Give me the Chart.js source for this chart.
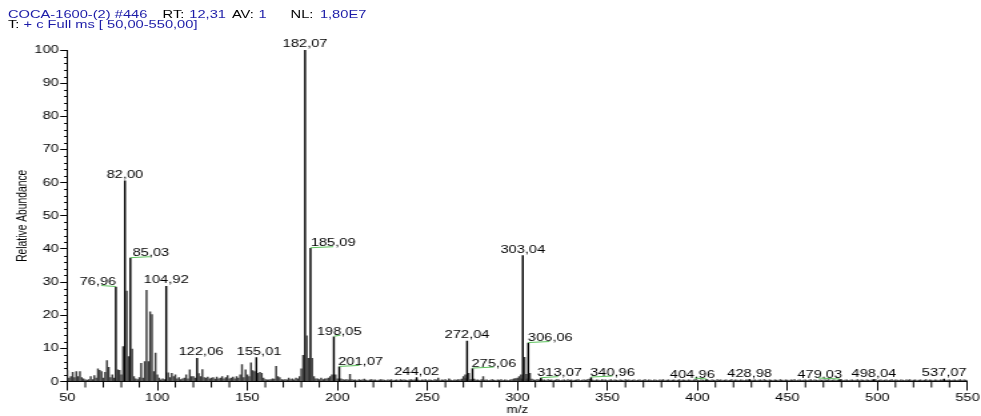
<!DOCTYPE html>
<html>
<head>
<meta charset="utf-8">
<script src="https://cdn.jsdelivr.net/npm/chart.js@4.4.1/dist/chart.umd.min.js"></script>
<style>
  html, body { margin: 0; padding: 0; background: #fff; overflow: hidden; }
  /* the original picture is stretched sideways, so the whole drawing is too */
  #wrap { position: absolute; left: 0; top: 0; width: 736px; height: 416px;
          transform: scaleX(1.3329); transform-origin: 0 0; }
  #chart { position: absolute; left: 0; top: 0; }
  .hd { position: absolute; font: 11px Arial, "Liberation Sans", sans-serif;
        line-height: 11px; white-space: pre; color: #000; }
  .b { color: #1c1ca8; }
</style>
</head>
<body>
<div id="wrap">
  <canvas id="chart" width="736" height="416"></canvas>
  <div class="hd b" style="left:6px;top:9px">COCA-1600-(2) #446</div>
  <div class="hd" style="left:122px;top:9px">RT:</div>
  <div class="hd b" style="left:142px;top:9px">12,31</div>
  <div class="hd" style="left:174px;top:9px">AV:</div>
  <div class="hd b" style="left:194px;top:9px">1</div>
  <div class="hd" style="left:218px;top:9px">NL:</div>
  <div class="hd b" style="left:240px;top:9px">1,80E7</div>
  <div class="hd" style="left:6px;top:19px">T: <span class="b">+ c Full ms [ 50,00-550,00]</span></div>
</div>
<script>
// m/z 50 - 207, one bar per unit (labelled peaks keep their exact mass)
const mzLow = [
  50, 51, 52, 53, 54, 55, 56, 57, 58, 59,
  60, 61, 62, 63, 64, 65, 66, 67, 68, 69,
  70, 71, 72, 73, 74, 75, 76, 76.96, 78, 79,
  80, 81, 82.00, 83, 84, 85.03, 86, 87, 88, 89,
  90, 91, 92, 93, 94, 95, 96, 97, 98, 99,
  100, 101, 102, 103, 104, 104.92, 106, 107, 108, 109,
  110, 111, 112, 113, 114, 115, 116, 117, 118, 119,
  120, 121, 122.06, 123, 124, 125, 126, 127, 128, 129,
  130, 131, 132, 133, 134, 135, 136, 137, 138, 139,
  140, 141, 142, 143, 144, 145, 146, 147, 148, 149,
  150, 151, 152, 153, 154, 155.01, 156, 157, 158, 159,
  160, 161, 162, 163, 164, 165, 166, 167, 168, 169,
  170, 171, 172, 173, 174, 175, 176, 177, 178, 179,
  180, 181, 182.07, 183, 184, 185.09, 186, 187, 188, 189,
  190, 191, 192, 193, 194, 195, 196, 197, 198.05, 199,
  200, 201.07, 202, 203, 204, 205, 206, 207
];
const abundLow = [
  3.3, 1.0, 1.5, 2.8, 1.2, 3.0, 1.5, 3.0, 1.2, 0.8,
  0.5, 0.4, 0.6, 1.5, 0.6, 1.8, 1.0, 3.8, 3.4, 3.0,
  1.0, 2.8, 6.3, 4.3, 1.2, 2.0, 1.0, 28.5, 3.5, 3.4,
  2.0, 10.5, 60.5, 27.3, 7.5, 37.2, 9.8, 1.5, 0.8, 0.6,
  1.2, 5.5, 1.0, 6.0, 27.5, 6.0, 21.0, 20.2, 3.0, 8.6,
  2.0, 1.0, 0.5, 0.8, 0.6, 28.7, 2.6, 1.2, 2.5, 1.5,
  2.0, 0.8, 1.2, 0.6, 0.8, 1.0, 2.0, 0.8, 3.5, 1.5,
  1.5, 1.0, 7.0, 2.4, 1.5, 3.6, 1.2, 1.0, 1.3, 0.8,
  1.0, 1.2, 0.7, 1.3, 0.8, 1.0, 1.5, 0.8, 1.2, 1.8,
  0.8, 1.0, 1.3, 0.8, 1.5, 1.0, 2.0, 5.1, 1.2, 3.5,
  2.0, 1.5, 5.6, 3.3, 3.0, 7.2, 2.5, 2.8, 2.5, 1.0,
  0.6, 0.5, 0.5, 0.6, 0.8, 0.7, 4.6, 1.5, 1.2, 0.6,
  0.5, 0.6, 0.5, 1.0, 0.6, 0.8, 0.5, 1.0, 0.8, 1.5,
  3.8, 7.9, 100, 13.8, 7.0, 40.2, 7.0, 1.5, 0.8, 0.8,
  0.6, 1.0, 0.6, 0.8, 0.8, 1.0, 1.5, 2.0, 13.5, 2.0,
  0.8, 4.4, 0.8, 0.6, 0.5, 0.6, 0.5, 2.2
];

// baseline noise, one value per unit from m/z 208 to 550
const noiseStart = 208;
const noiseAbund = [
  0.6, 0.4, 0.5, 0.3, 0.6, 0.4, 0.5, 0.7, 0.4, 0.3, 0.5, 0.6, 0.4, 0.5, 0.3, 0.4, 0.6, 0.5, 0.4, 0.3,
  0.5, 0.4, 0.6, 0.3, 0.4, 0.5, 0.3, 0.6, 0.4, 0.5, 0.4, 0.3, 0.5, 0.6, 0.4, 0.5, 0.6, 0.4, 0.3, 0.5,
  0.4, 0.6, 0.3, 0.5, 0.4, 0.3, 0.6, 0.5, 0.4, 0.3, 0.5, 0.4, 0.6, 0.3, 0.5, 0.4, 0.3, 0.5, 0.4, 0.6,
  0.5, 0.7, 0.8, 0.9, 0.5, 0.4, 0.6, 0.5, 0.7, 0.4, 0.5, 0.3, 0.6, 0.5, 0.4, 0.5, 0.3, 0.4, 0.6, 0.4,
  0.3, 0.5, 0.4, 0.6, 0.3, 0.5, 0.4, 0.3, 0.5, 0.6, 0.8, 0.9, 0.7, 0.9, 0.8, 0.6, 0.7, 0.5, 0.9, 0.6,
  0.7, 0.5, 0.4, 0.6, 0.5, 0.7, 0.4, 0.5, 0.3, 0.6, 0.4, 0.5, 0.3, 0.4, 0.6, 0.5, 0.3, 0.4, 0.5, 0.3,
  0.6, 0.4, 0.5, 0.3, 0.4, 0.5, 0.6, 0.3, 0.4, 0.5, 0.4, 0.6, 0.7, 0.5, 0.4, 0.3, 0.5, 0.4, 0.3, 0.6,
  0.4, 0.5, 0.3, 0.4, 0.6, 0.3, 0.5, 0.4, 0.3, 0.5, 0.4, 0.3, 0.6, 0.4, 0.5, 0.3, 0.4, 0.5, 0.3, 0.4,
  0.5, 0.3, 0.4, 0.6, 0.3, 0.5, 0.4, 0.3, 0.5, 0.4, 0.3, 0.5, 0.4, 0.6, 0.3, 0.4, 0.5, 0.3, 0.4, 0.5,
  0.3, 0.4, 0.6, 0.3, 0.5, 0.4, 0.3, 0.5, 0.4, 0.3, 0.5, 0.6, 0.4, 0.3, 0.5, 0.4, 0.3, 0.5, 0.4, 0.3,
  0.5, 0.4, 0.3, 0.6, 0.4, 0.5, 0.3, 0.4, 0.5, 0.3, 0.4, 0.6, 0.3, 0.5, 0.4, 0.3, 0.5, 0.4, 0.3, 0.5,
  0.4, 0.6, 0.3, 0.4, 0.5, 0.3, 0.4, 0.5, 0.3, 0.6, 0.4, 0.3, 0.5, 0.4, 0.3, 0.5, 0.4, 0.3, 0.6, 0.4,
  0.3, 0.5, 0.4, 0.3, 0.5, 0.4, 0.6, 0.3, 0.4, 0.5, 0.3, 0.4, 0.5, 0.3, 0.4, 0.6, 0.3, 0.5, 0.4, 0.3,
  0.5, 0.4, 0.3, 0.5, 0.4, 0.6, 0.3, 0.4, 0.5, 0.3, 0.4, 0.5, 0.6, 0.3, 0.4, 0.5, 0.3, 0.4, 0.5, 0.3,
  0.4, 0.6, 0.3, 0.5, 0.4, 0.3, 0.5, 0.4, 0.3, 0.5, 0.4, 0.6, 0.3, 0.4, 0.5, 0.3, 0.4, 0.5, 0.3, 0.4,
  0.6, 0.3, 0.5, 0.4, 0.3, 0.5, 0.4, 0.3, 0.5, 0.4, 0.6, 0.3, 0.4, 0.5, 0.3, 0.4, 0.5, 0.3, 0.4, 0.6,
  0.3, 0.5, 0.4, 0.3, 0.5, 0.4, 0.3, 0.5, 0.4, 0.6, 0.3, 0.4, 0.5, 0.3, 0.4, 0.5, 0.3, 0.4, 0.6, 0.3,
  0.5, 0.4, 0.3
];

// peaks above m/z 208
const mzHigh = [244.02, 256, 262, 270, 271, 272.04, 273, 275.06, 281, 300, 301, 302,
                303.04, 304, 305, 306.06, 307, 313.07, 340.96, 404.96, 428.98, 479.03, 498.04, 537.07];
const abundHigh = [1.2, 1.0, 0.8, 1.5, 2.0, 12.2, 2.5, 3.9, 1.5, 1.0, 1.5, 2.0,
                   38.0, 7.3, 2.2, 11.6, 2.5, 1.0, 1.2, 0.6, 0.6, 0.6, 0.6, 0.7];

// peaks that carry a mass label
const labelMz = [76.96, 82.00, 85.03, 104.92, 122.06, 155.01, 182.07, 185.09, 198.05, 201.07,
                 244.02, 272.04, 275.06, 303.04, 306.06, 313.07, 340.96, 404.96, 428.98,
                 479.03, 498.04, 537.07];

const yTicks = [0, 10, 20, 30, 40, 50, 60, 70, 80, 90, 100];
const xTicks = [50, 100, 150, 200, 250, 300, 350, 400, 450, 500, 550];

const fmt = v => v.toFixed(2).replace('.', ',');
const FONT = 'Arial, "Liberation Sans", sans-serif';

const points = [];
mzLow.forEach((m, i) => points.push({ x: m, y: abundLow[i] }));
noiseAbund.forEach((v, i) => points.push({ x: noiseStart + i, y: v }));
mzHigh.forEach((m, i) => points.push({ x: m, y: abundHigh[i] }));

// offsets of shifted labels and their green leader lines (canvas px, from the bar)
const labelShift = {
  '76,96': { dx: -13.5, line: [-11, 0] },
  '85,03': { dx: 15.4, line: [0, 15] },
  '122,06': { dx: 3 },
  '155,01': { dx: 2 },
  '185,09': { dx: 17, line: [0, 17] },
  '198,05': { dx: 4, line: [0, 5] },
  '201,07': { dx: 16, line: [0, 15] },
  '275,06': { dx: 16, line: [0, 16] },
  '306,06': { dx: 16.5, line: [0, 16] },
  '313,07': { dx: 14, line: [0, 13] },
  '340,96': { dx: 16, line: [0, 16] },
  '404,96': { dx: -10.5, line: [-9, 0] },
  '479,03': { dx: -15, line: [-16, 0] }
};

const minorTicks = {
  id: 'minorTicks',
  afterDraw(chart) {
    const { ctx, chartArea: a, scales: { x, y } } = chart;
    ctx.save();
    ctx.strokeStyle = '#000';
    ctx.lineWidth = 1;
    ctx.beginPath();
    for (let v = 2; v < 100; v += 2) {
      if (v % 10 === 0) continue;
      const py = Math.round(y.getPixelForValue(v)) + 0.5;
      ctx.moveTo(a.left - 2.4, py);
      ctx.lineTo(a.left, py);
    }
    for (let v = 60; v < 550; v += 10) {
      if (v % 50 === 0) continue;
      const px = x.getPixelForValue(v);
      ctx.moveTo(px, a.bottom);
      ctx.lineTo(px, a.bottom + 6);
    }
    ctx.stroke();
    ctx.restore();
  }
};

const peakLabels = {
  id: 'peakLabels',
  afterDatasetsDraw(chart) {
    const { ctx, scales: { x, y } } = chart;
    ctx.save();
    ctx.font = '11px ' + FONT;
    ctx.textAlign = 'center';
    ctx.textBaseline = 'alphabetic';
    labelMz.forEach(m => {
      const p = points.find(d => d.x === m);
      const txt = fmt(m);
      const st = labelShift[txt] || { dx: 0 };
      const px = x.getPixelForValue(m);
      const py = y.getPixelForValue(p.y);
      ctx.fillStyle = '#000';
      ctx.fillText(txt, px + st.dx, py - (st.line ? 2 : 3));
      if (st.line) {
        ctx.strokeStyle = '#5ec35e';
        ctx.lineWidth = 1;
        ctx.beginPath();
        const [a, b] = st.line;
        ctx.moveTo(px + a, a < 0 ? py - 1.5 : py - 0.5);
        ctx.lineTo(px + b, a < 0 ? py - 0.5 : py - 1.5);
        ctx.stroke();
      }
    });
    ctx.restore();
  }
};

const labelled = new Set(labelMz);

new Chart(document.getElementById('chart'), {
  type: 'bar',
  data: {
    datasets: [{
      data: points,
      barThickness: 0.8,
      backgroundColor: ctx => labelled.has(ctx.raw && ctx.raw.x) ? '#000' : '#3c3c3c',
      borderWidth: 0
    }]
  },
  options: {
    responsive: false,
    animation: false,
    layout: { padding: { top: 50, right: 10, left: 0, bottom: 0 } },
    plugins: { legend: { display: false }, tooltip: { enabled: false } },
    scales: {
      x: {
        type: 'linear',
        min: 50,
        max: 550,
        offset: false,
        afterFit: s => { s.height = 34.5; },
        afterBuildTicks: s => { s.ticks = xTicks.map(v => ({ value: v })); },
        ticks: { color: '#000', font: { size: 11, family: FONT }, padding: 1, maxRotation: 0, autoSkip: false },
        grid: { drawOnChartArea: false, drawTicks: true, tickLength: 9, color: '#000', offset: false },
        border: { display: true, color: '#000', width: 1 },
        title: { display: true, text: 'm/z', color: '#000', font: { size: 10, family: FONT }, padding: { top: 0, bottom: 0 } }
      },
      y: {
        min: 0,
        max: 100,
        afterFit: s => { s.width = 50.5; },
        afterBuildTicks: s => { s.ticks = yTicks.map(v => ({ value: v })); },
        ticks: { color: '#000', font: { size: 11, family: FONT }, padding: 1, autoSkip: false },
        grid: { drawOnChartArea: false, drawTicks: true, tickLength: 5.3, color: '#000' },
        border: { display: true, color: '#000', width: 1 },
        title: { display: true, text: 'Relative Abundance', color: '#000', font: { size: 10.3, family: FONT }, padding: { top: 11, bottom: 0 } }
      }
    }
  },
  plugins: [minorTicks, peakLabels]
});
</script>
</body>
</html>
